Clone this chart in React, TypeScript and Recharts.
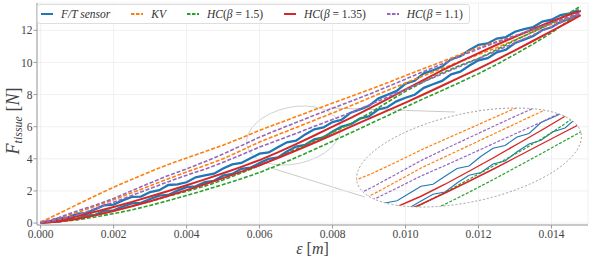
import React from "react";
import { LineChart, Line, XAxis, YAxis, CartesianGrid } from "recharts";

// strain [m] sampled every 0.5 mm for the model curves
const EPS = [
  0, 0.0005, 0.001, 0.0015, 0.002, 0.0025, 0.003, 0.0035, 0.004, 0.0045, 0.005,
  0.0055, 0.006, 0.0065, 0.007, 0.0075, 0.008, 0.0085, 0.009, 0.0095, 0.01,
  0.0105, 0.011, 0.0115, 0.012, 0.0125, 0.013, 0.0135, 0.014, 0.0145, 0.0148,
];

// sensor is sampled finer (0.25 mm)
const EPS_FT = [
  0, 0.00025, 0.0005, 0.00075, 0.001, 0.00125, 0.0015, 0.00175, 0.002, 0.00225,
  0.0025, 0.00275, 0.003, 0.00325, 0.0035, 0.00375, 0.004, 0.00425, 0.0045, 0.00475,
  0.005, 0.00525, 0.0055, 0.00575, 0.006, 0.00625, 0.0065, 0.00675, 0.007, 0.00725,
  0.0075, 0.00775, 0.008, 0.00825, 0.0085, 0.00875, 0.009, 0.00925, 0.0095, 0.00975,
  0.01, 0.01025, 0.0105, 0.01075, 0.011, 0.01125, 0.0115, 0.01175, 0.012, 0.01225,
  0.0125, 0.01275, 0.013, 0.01325, 0.0135, 0.01375, 0.014, 0.01425, 0.0145, 0.01475,
];

const FT_HI = [
  0.08, 0.11, 0.31, 0.36, 0.59, 0.62, 0.87, 1.11, 1.15, 1.41,
  1.63, 1.65, 1.93, 2.05, 2.37, 2.41, 2.54, 2.85, 2.97, 3.07,
  3.4, 3.65, 3.74, 4.03, 4.32, 4.4, 4.72, 5.03, 5.13, 5.52,
  5.84, 5.95, 6.29, 6.43, 6.87, 7.08, 7.3, 7.75, 7.99, 8.21,
  8.68, 8.86, 9.32, 9.51, 9.74, 10.2, 10.39, 10.78, 11.1, 11.18,
  11.49, 11.58, 11.91, 12.07, 12.2, 12.54, 12.66, 12.95, 13.06, 13.26,
];
const FT_LO = [
  0.02, 0.1, 0.09, 0.26, 0.28, 0.47, 0.51, 0.77, 0.79, 1.03,
  1.23, 1.26, 1.5, 1.71, 1.75, 2.02, 2.24, 2.29, 2.55, 2.63,
  2.95, 3.06, 3.38, 3.45, 3.73, 4.0, 4.09, 4.45, 4.76, 4.87,
  5.21, 5.33, 5.7, 6.01, 6.16, 6.5, 6.65, 7.07, 7.21, 7.58,
  7.8, 7.99, 8.42, 8.64, 8.85, 9.26, 9.43, 9.81, 10.13, 10.27,
  10.63, 10.79, 11.21, 11.42, 11.64, 12.02, 12.19, 12.53, 12.73, 12.98,
];

const KV_HI = [
  0.05, 0.6, 1.15, 1.7, 2.23, 2.72, 3.2, 3.65, 4.05, 4.45, 4.85, 5.3, 5.77, 6.2, 6.62,
  7.05, 7.47, 7.88, 8.3, 8.73, 9.18, 9.62, 10.05, 10.5, 10.92, 11.3, 11.66, 12.02, 12.4, 12.8, 13.05,
];
const KV_LO = [
  0, 0.3, 0.65, 1.05, 1.45, 1.88, 2.32, 2.76, 3.18, 3.58, 4.0, 4.52, 5.05, 5.5, 5.95,
  6.4, 6.85, 7.3, 7.78, 8.25, 8.72, 9.18, 9.62, 10.06, 10.5, 10.92, 11.4, 11.9, 12.4, 12.85, 13.05,
];
const HC15_HI = [
  0, 0.12, 0.3, 0.52, 0.78, 1.05, 1.35, 1.67, 1.98, 2.3, 2.68, 3.12, 3.58, 4.08, 4.6,
  5.12, 5.65, 6.2, 6.82, 7.52, 8.2, 8.8, 9.35, 9.82, 10.25, 10.8, 11.38, 11.92, 12.45, 13.1, 13.5,
];
const HC15_LO = [
  0, 0.08, 0.2, 0.38, 0.59, 0.82, 1.1, 1.4, 1.72, 2.05, 2.4, 2.76, 3.15, 3.6, 4.08,
  4.58, 5.1, 5.62, 6.15, 6.68, 7.22, 7.75, 8.25, 8.77, 9.3, 9.88, 10.5, 11.15, 11.85, 12.65, 13.25,
];
const HC135_HI = [
  0, 0.18, 0.42, 0.7, 1.0, 1.32, 1.65, 2.0, 2.35, 2.72, 3.1, 3.5, 3.92, 4.4, 4.92,
  5.45, 6.0, 6.55, 7.12, 7.72, 8.32, 8.92, 9.5, 10.05, 10.58, 11.1, 11.6, 12.08, 12.55, 12.98, 13.2,
];
const HC135_LO = [
  0, 0.1, 0.26, 0.48, 0.75, 1.05, 1.36, 1.7, 2.05, 2.42, 2.8, 3.2, 3.6, 4.05, 4.52,
  5.0, 5.5, 6.0, 6.5, 7.0, 7.5, 8.02, 8.55, 9.08, 9.62, 10.18, 10.75, 11.35, 11.95, 12.55, 12.95,
];
const HC11_HI = [
  0.02, 0.35, 0.75, 1.12, 1.53, 2.02, 2.5, 2.96, 3.37, 3.82, 4.3, 4.82, 5.35, 5.81, 6.26,
  6.71, 7.15, 7.58, 8.02, 8.48, 8.96, 9.44, 9.9, 10.39, 10.84, 11.26, 11.66, 12.05, 12.45, 12.85, 13.1,
];
const HC11_LO = [
  0, 0.22, 0.5, 0.9, 1.3, 1.72, 2.15, 2.58, 2.98, 3.35, 3.78, 4.25, 4.73, 5.15, 5.58,
  6.02, 6.45, 6.88, 7.35, 7.83, 8.32, 8.8, 9.28, 9.76, 10.24, 10.73, 11.22, 11.72, 12.22, 12.72, 13.05,
];

const X_TICKS = [0, 0.002, 0.004, 0.006, 0.008, 0.01, 0.012, 0.014];
const Y_TICKS = [0, 2, 4, 6, 8, 10, 12];

const BLUE = "#1f77b4";
const ORANGE = "#ff7f0e";
const GREEN = "#2ca02c";
const RED = "#d62728";
const PURPLE = "#9467bd";

const SERIF = "Liberation Serif";

const pts = (xs: number[], ys: number[]) => xs.map((e, i) => ({ e, f: ys[i] }));

const CURVES = [
  { id: "ft-hi", data: pts(EPS_FT, FT_HI), color: BLUE, dashed: false },
  { id: "ft-lo", data: pts(EPS_FT, FT_LO), color: BLUE, dashed: false },
  { id: "kv-hi", data: pts(EPS, KV_HI), color: ORANGE, dashed: true },
  { id: "kv-lo", data: pts(EPS, KV_LO), color: ORANGE, dashed: true },
  { id: "hc15-hi", data: pts(EPS, HC15_HI), color: GREEN, dashed: true },
  { id: "hc15-lo", data: pts(EPS, HC15_LO), color: GREEN, dashed: true },
  { id: "hc135-hi", data: pts(EPS, HC135_HI), color: RED, dashed: false },
  { id: "hc135-lo", data: pts(EPS, HC135_LO), color: RED, dashed: false },
  { id: "hc11-hi", data: pts(EPS, HC11_HI), color: PURPLE, dashed: true },
  { id: "hc11-lo", data: pts(EPS, HC11_LO), color: PURPLE, dashed: true },
];

const LEGEND = [
  { color: BLUE, dashed: false, label: <i>F/T sensor</i> },
  { color: ORANGE, dashed: true, label: <i>KV</i> },
  { color: GREEN, dashed: true, label: <><i>HC</i>(<i>β</i> = 1.5)</> },
  { color: RED, dashed: false, label: <><i>HC</i>(<i>β</i> = 1.35)</> },
  { color: PURPLE, dashed: true, label: <><i>HC</i>(<i>β</i> = 1.1)</> },
];

const tickStyle = { fill: "#444", fontSize: 11.5, fontFamily: SERIF };

const XLabel = () => (
  <text x={312.5} y={254} textAnchor="middle" fill="#444" fontFamily={SERIF} fontSize={16}>
    <tspan fontStyle="italic">ε</tspan> [<tspan fontStyle="italic">m</tspan>]
  </text>
);

const YLabel = () => (
  <text
    x={0}
    y={0}
    transform="translate(19,121) rotate(-90)"
    textAnchor="middle"
    fill="#444"
    fontFamily={SERIF}
    fontSize={18}
  >
    <tspan fontStyle="italic">F</tspan>
    <tspan fontStyle="italic" fontSize={12} dy={3}>tissue</tspan>
    <tspan dy={-3}> [</tspan>
    <tspan fontStyle="italic">N</tspan>
    <tspan>]</tspan>
  </text>
);

// inset geometry (rotated ellipse)
const INSET = { left: 350, top: 105, w: 240, h: 110 };
const BIG = { cx: 469, cy: 157.5, rx: 114.6, ry: 44.1, rot: -12.3 };
const SMALL = { cx: 293.5, cy: 135.5, rx: 47.6, ry: 28.4, rot: -12.1 };

function ellipsePath(cx: number, cy: number, rx: number, ry: number, rot: number) {
  const t = (rot * Math.PI) / 180;
  const dx = rx * Math.cos(t);
  const dy = rx * Math.sin(t);
  const x1 = cx - dx, y1 = cy - dy, x2 = cx + dx, y2 = cy + dy;
  return `M ${x1} ${y1} A ${rx} ${ry} ${rot} 1 0 ${x2} ${y2} A ${rx} ${ry} ${rot} 1 0 ${x1} ${y1} Z`;
}

export default function App() {
  const clip = ellipsePath(BIG.cx - INSET.left, BIG.cy - INSET.top, BIG.rx, BIG.ry, BIG.rot);

  return (
    <div style={{ position: "relative", width: 598, height: 267, background: "#fff" }}>
      <style>{"body{margin:0}"}</style>

      {/* zoom source ellipse and connectors, under the curves */}
      <svg width={598} height={267} style={{ position: "absolute", left: 0, top: 0 }}>
        <ellipse
          cx={SMALL.cx}
          cy={SMALL.cy}
          rx={SMALL.rx}
          ry={SMALL.ry}
          transform={`rotate(${SMALL.rot} ${SMALL.cx} ${SMALL.cy})`}
          fill="none"
          stroke="#cfcfcf"
          strokeWidth={0.9}
        />
        <line x1={330} y1={108} x2={455} y2={112} stroke="#c4c4c4" strokeWidth={0.9} />
        <line x1={268} y1={167} x2={365} y2={197} stroke="#c4c4c4" strokeWidth={0.9} />
      </svg>

      <div style={{ position: "absolute", left: 0, top: 0 }}>
        <LineChart width={598} height={267} margin={{ top: 3, right: 10, bottom: 12, left: 0 }}>
          <CartesianGrid stroke="#ececec" strokeWidth={0.8} />
          <XAxis
            dataKey="e"
            type="number"
            domain={[-0.0001, 0.015]}
            ticks={X_TICKS}
            allowDataOverflow
            tickFormatter={(v: number) => v.toFixed(3)}
            tick={tickStyle}
            tickSize={3.5}
            tickMargin={1}
            height={30}
            stroke="#9a9a9a"
            label={<XLabel />}
          />
          <YAxis
            type="number"
            domain={[-0.12, 13.7]}
            ticks={Y_TICKS}
            allowDataOverflow
            tick={tickStyle}
            tickSize={3.5}
            tickMargin={1}
            width={37}
            stroke="#9a9a9a"
            label={<YLabel />}
          />
          <XAxis xAxisId="top" orientation="top" type="number" domain={[0, 1]} height={0} tick={false} tickLine={false} stroke="#9a9a9a" />
          <YAxis yAxisId="right" orientation="right" type="number" domain={[0, 1]} width={0} tick={false} tickLine={false} stroke="#9a9a9a" />
          {CURVES.map((c) => (
            <Line
              key={c.id}
              data={c.data}
              dataKey="f"
              type="linear"
              stroke={c.color}
              strokeWidth={c.dashed ? 1.6 : c.color === BLUE ? 2.3 : 2}
              strokeDasharray={c.dashed ? "4 1.8" : undefined}
              dot={false}
              isAnimationActive={false}
            />
          ))}
        </LineChart>
      </div>

      {/* magnified inset */}
      <div
        style={{
          position: "absolute",
          left: INSET.left,
          top: INSET.top,
          width: INSET.w,
          height: INSET.h,
          clipPath: `path('${clip}')`,
        }}
      >
        <LineChart width={INSET.w} height={INSET.h} margin={{ top: 0, right: 0, bottom: 0, left: 0 }}>
          <XAxis dataKey="e" type="number" domain={[0.00452, 0.00952]} allowDataOverflow hide />
          <YAxis type="number" domain={[3.17, 7.57]} allowDataOverflow hide />
          {CURVES.map((c) => (
            <Line
              key={c.id}
              data={c.data}
              dataKey="f"
              type="linear"
              stroke={c.color}
              strokeWidth={c.dashed ? 1.2 : c.color === BLUE ? 1.1 : 1.4}
              strokeDasharray={c.dashed ? "3 1.6" : undefined}
              dot={false}
              isAnimationActive={false}
            />
          ))}
        </LineChart>
      </div>

      <svg width={598} height={267} style={{ position: "absolute", left: 0, top: 0, pointerEvents: "none" }}>
        <ellipse
          cx={BIG.cx}
          cy={BIG.cy}
          rx={BIG.rx}
          ry={BIG.ry}
          transform={`rotate(${BIG.rot} ${BIG.cx} ${BIG.cy})`}
          fill="none"
          stroke="#9a9a9a"
          strokeWidth={0.9}
          strokeDasharray="2 2"
        />
      </svg>

      <div
        style={{
          position: "absolute",
          left: 37,
          top: 4,
          height: 18,
          padding: "0 6px 0 3px",
          display: "flex",
          alignItems: "center",
          gap: 21,
          background: "rgba(255,255,255,0.85)",
          border: "1px solid #dedede",
          borderRadius: 3,
          fontFamily: SERIF,
          fontSize: 11.5,
          color: "#333",
          whiteSpace: "nowrap",
        }}
      >
        {LEGEND.map((l, i) => (
          <div key={i} style={{ display: "flex", alignItems: "center" }}>
            <svg width={12} height={6} style={{ marginRight: 8 }}>
              <line
                x1={0}
                y1={3}
                x2={12}
                y2={3}
                stroke={l.color}
                strokeWidth={2}
                strokeDasharray={l.dashed ? "3.5 1.5" : undefined}
              />
            </svg>
            <span>{l.label}</span>
          </div>
        ))}
      </div>
    </div>
  );
}
